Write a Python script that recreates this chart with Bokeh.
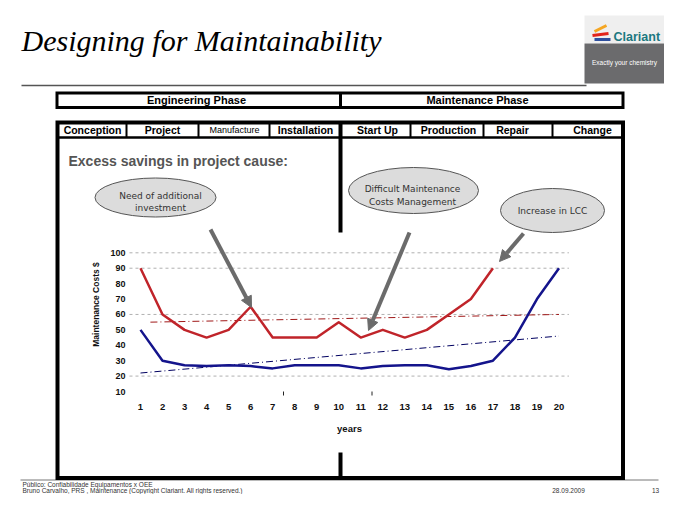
import numpy as np
from bokeh.plotting import figure
from bokeh.models import Range1d, Arrow, NormalHead
from bokeh.core.properties import value
from bokeh.embed import file_html
from bokeh.resources import INLINE

# ---------------- data ----------------
years = list(range(1, 21))
red_years = list(range(1, 18))
red_costs = [90, 60, 50, 45, 50, 65, 45, 45, 45, 55, 45, 50, 45, 50, 60, 70, 90]
blue_costs = [50, 30, 27, 26.5, 27, 26.5, 25, 27, 27, 27, 25, 26.5, 27, 27, 24.5, 26.5, 30, 45, 70, 90]
red_trend_years = [1.45, 20]
red_trend = [55, 60]
blue_trend_years = [1, 20]
blue_trend = [22, 46]
y_ticks = [10, 20, 30, 40, 50, 60, 70, 80, 90, 100]
x_tick_labels = [str(y) for y in years]
grid_values = [20, 60, 90, 100]
phases = ["Engineering Phase", "Maintenance Phase"]
stages = ["Conception", "Project", "Manufacture", "Installation",
          "Start Up", "Production", "Repair", "Change"]
callouts = [["Need of additional", "investment"],
            ["Difficult Maintenance", "Costs Management"],
            ["Increase in LCC"]]

# ---------------- layout (page pixels) ----------------
X1_PX, X20_PX = 140.0, 558.5      # year 1 / year 20
PY10, PY100 = 391.0, 252.3        # value 10 / value 100
PW, PH = 664, 494


def yr_at(px):
    return 1 + (px - X1_PX) * 19 / (X20_PX - X1_PX)


def val_at(py):
    return 10 + (PY10 - py) * 90 / (PY10 - PY100)


FONT = value("Liberation Sans")

p = figure(width=PW, height=PH, x_range=Range1d(0, PW), y_range=Range1d(PH, 0),
           x_axis_type=None, y_axis_type=None, output_backend="svg",
           toolbar_location=None, min_border=0)
p.outline_line_color = None
p.xgrid.visible = False
p.ygrid.visible = False
p.extra_x_ranges = {"yr": Range1d(yr_at(0), yr_at(PW))}
p.extra_y_ranges = {"cost": Range1d(val_at(PH), val_at(0))}

# title
p.text(x=[21], y=[40], text=["Designing for Maintainability"], text_font=value("Liberation Serif"),
       text_font_style="italic", text_font_size="30px", text_color="#000000",
       text_baseline="middle", text_align="left")
p.segment(x0=[21], y0=[85], x1=[586], y1=[85], line_color="#555555", line_width=1.5)

# logo
p.quad(left=[584], right=[664], top=[15], bottom=[43], fill_color="#efefef", line_color=None)
p.quad(left=[584], right=[664], top=[43], bottom=[83], fill_color="#6b6b6d", line_color=None)
p.segment(x0=[594, 592, 594], y0=[31, 35, 39], x1=[606, 608, 610], y1=[25, 33, 39],
          line_color=["#f5a623", "#e2231a", "#2d4f9e"], line_width=3)
p.text(x=[613], y=[36], text=["Clariant"], text_font=FONT, text_font_size="12.5px",
       text_color="#1b7880", text_font_style="bold", text_baseline="middle")
p.text(x=[624], y=[62], text=["Exactly your chemistry"], text_font=FONT, text_font_size="6.5px",
       text_color="#ffffff", text_baseline="middle", text_align="center")

# footer
p.segment(x0=[20], y0=[479.5], x1=[658], y1=[479.5], line_color="#777777", line_width=1)
p.text(x=[22, 22], y=[483.5, 489.5],
       text=["Público: Confiabilidade Equipamentos x OEE",
             "Bruno Carvalho, PRS , Maintenance (Copyright Clariant. All rights reserved.)"],
       text_font=FONT, text_font_size="6.5px", text_color="#333333", text_baseline="middle")
p.text(x=[568, 655], y=[489.5, 489.5], text=["28.09.2009", "13"], text_font=FONT,
       text_font_size="6.5px", text_color="#333333", text_baseline="middle", text_align="center")

# header boxes
p.quad(left=[56.5], right=[622.5], top=[92.5], bottom=[107], fill_color=None,
       line_color="#000000", line_width=3, line_join="miter")
p.segment(x0=[340], y0=[92], x1=[340], y1=[107], line_color="#000000", line_width=3)
p.text(x=[196, 477], y=[99.5, 99.5], text=phases, text_font=FONT, text_font_size="11px",
       text_font_style="bold", text_color="#000000", text_baseline="middle", text_align="center")

p.quad(left=[57], right=[622.5], top=[122], bottom=[477.5], fill_color=None,
       line_color="#000000", line_width=4, line_join="miter")
p.segment(x0=[57], y0=[137], x1=[622.5], y1=[137], line_color="#000000", line_width=2.5)
sep_x = [126, 198, 269, 410, 483, 552]
p.segment(x0=sep_x, y0=[122] * 6, x1=sep_x, y1=[137] * 6, line_color="#000000", line_width=2)
p.segment(x0=[340], y0=[122], x1=[340], y1=[477.5], line_color="#000000", line_width=4)
stage_x = [92, 162, 234, 305, 377, 448, 512, 592]
p.text(x=stage_x, y=[129.5] * 8, text=stages, text_font=FONT,
       text_font_size=["10.5px", "10.5px", "9px", "10.5px", "10.5px", "10.5px", "10.5px", "10.5px"],
       text_font_style=["bold", "bold", "normal", "bold", "bold", "bold", "bold", "bold"],
       text_color="#000000", text_baseline="middle", text_align="center")

p.text(x=[68], y=[160], text=["Excess savings in project cause:"], text_font=FONT,
       text_font_size="14px", text_font_style="bold", text_color="#555555",
       text_baseline="middle")

# chart background (covers middle divider)
p.quad(left=[80], right=[600], top=[232], bottom=[452], fill_color="#ffffff", line_color=None)

# gridlines
p.segment(x0=[0.5] * len(grid_values), y0=grid_values, x1=[20.45] * len(grid_values),
          y1=grid_values, x_range_name="yr", y_range_name="cost",
          line_color="#b0b0b0", line_width=1, line_dash="3 3")

# trend lines
p.line(red_trend_years, red_trend, x_range_name="yr", y_range_name="cost",
       line_color="#a01818", line_width=1, line_dash="7 3 1 3")
p.line(blue_trend_years, blue_trend, x_range_name="yr", y_range_name="cost",
       line_color="#000060", line_width=1, line_dash="7 3 1 3")

# series
p.line(red_years, red_costs, x_range_name="yr", y_range_name="cost",
       line_color="#c0242a", line_width=2.5, line_join="round")
p.line(years, blue_costs, x_range_name="yr", y_range_name="cost",
       line_color="#14148c", line_width=2.5, line_join="round")

# tick labels
p.text(x=[125] * len(y_ticks), y=y_ticks, text=[str(v) for v in y_ticks], y_range_name="cost",
       text_font=FONT, text_font_size="9px", text_font_style="bold", text_color="#111111",
       text_align="right", text_baseline="middle")
p.text(x=years, y=[406] * len(years), text=x_tick_labels, x_range_name="yr",
       text_font=FONT, text_font_size="9.5px", text_font_style="bold", text_color="#111111",
       text_align="center", text_baseline="middle")
p.text(x=[349], y=[428], text=["years"], text_font=FONT, text_font_size="9.5px",
       text_font_style="bold", text_color="#111111", text_align="center", text_baseline="middle")
p.text(x=[95], y=[304], text=["Maintenance Costs $"], angle=np.pi / 2, text_font=FONT,
       text_font_size="8.5px", text_font_style="bold", text_color="#111111",
       text_align="center", text_baseline="middle")
p.segment(x0=[283, 371.5], y0=[391, 391], x1=[283, 371.5], y1=[395, 395],
          line_color="#222222", line_width=1)

# callout ellipses
p.ellipse(x=[155, 413, 552], y=[197, 190, 210], width=[121, 130, 104], height=[39, 46, 44],
          fill_color="#dcdcdc", line_color="#555555", line_width=1)
p.text(x=[160, 160, 412, 412, 552], y=[195, 207.5, 188, 201, 210],
       text=callouts[0] + callouts[1] + callouts[2], text_font=value("DejaVu Sans"),
       text_font_size="9px", text_color="#333333", text_align="center",
       text_baseline="middle")

# arrows
for xs, ys, xe, ye in [(210, 229, 251, 307), (409, 232, 368, 330), (523, 233, 499, 261)]:
    p.add_layout(Arrow(end=NormalHead(size=11, fill_color="#6b6b6b", line_color="#6b6b6b"),
                       x_start=xs, y_start=ys, x_end=xe, y_end=ye,
                       line_color="#6b6b6b", line_width=4))

open("out.html", "w").write(file_html(p, INLINE))
